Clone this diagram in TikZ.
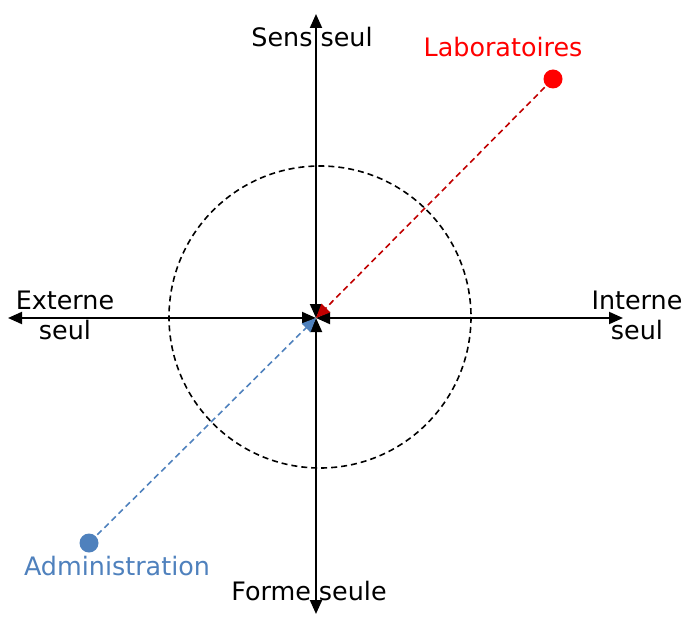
\documentclass[tikz,border=0pt]{standalone}
\usepackage{fontspec}
\setmainfont{DejaVu Sans}
\usetikzlibrary{arrows.meta}
\definecolor{labred}{RGB}{255,0,0}
\definecolor{labdark}{RGB}{192,0,0}
\definecolor{admblue}{RGB}{79,129,189}

\begin{document}
\begin{tikzpicture}[x=1bp, y=-1bp, >={Triangle[length=14bp,width=12bp]},
    axis/.style={line width=2bp, <->},
    axislabel/.style={font=\fontsize{25.5}{30}\selectfont, align=center, inner sep=0pt},
    link/.style={line width=1.6bp, dash pattern=on 6bp off 4bp, ->, shorten <=2bp},
    dot/.style={circle, fill, inner sep=0pt, minimum size=19bp}]
  \useasboundingbox (0,0) rectangle (684,617);
  \coordinate (O) at (316,318);
  \coordinate (N) at (316,14);
  \coordinate (S) at (316,614);
  \coordinate (W) at (8,318);
  \coordinate (E) at (623,318);
  % cercle
  \draw[line width=1.6bp, dash pattern=on 6bp off 4bp] (320,317) circle (151);
  % axes
  \draw[axis] (O) -- (N);
  \draw[axis] (O) -- (S);
  \draw[axis] (O) -- (W);
  \draw[axis] (O) -- (E);
  \node[axislabel] (sens) at (312,37) {Sens seul};
  \node[axislabel] (forme) at (309,591) {Forme seule};
  \node[axislabel] (externe) at (65,315) {Externe\\seul};
  \node[axislabel] (interne) at (637,315) {Interne\\seul};
  % points
  \node[dot, labred] (lab) at (553,79) {};
  \node[dot, admblue] (adm) at (89,543) {};
  \node[axislabel, labred] (labtxt) at (503,47) {Laboratoires};
  \node[axislabel, admblue] (admtxt) at (117,566) {Administration};
  \draw[link, labdark] (lab) -- (O);
  \draw[link, admblue] (adm) -- (O);
\end{tikzpicture}
\end{document}
